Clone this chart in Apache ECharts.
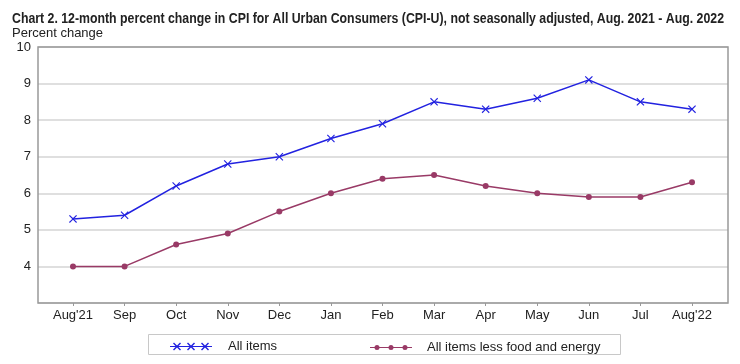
<!DOCTYPE html>
<html>
<head>
<meta charset="utf-8">
<script src="https://cdn.jsdelivr.net/npm/echarts@6/dist/echarts.min.js"></script>
<style>
html,body{margin:0;padding:0;background:#fff;}
#main{width:740px;height:364px;}
</style>
</head>
<body>
<div id="main"></div>
<script>
const categories = ["Aug'21","Sep","Oct","Nov","Dec","Jan","Feb","Mar","Apr","May","Jun","Jul","Aug'22"];
const allItems = [5.3,5.4,6.2,6.8,7.0,7.5,7.9,8.5,8.3,8.6,9.1,8.5,8.3];
const coreItems = [4.0,4.0,4.6,4.9,5.5,6.0,6.4,6.5,6.2,6.0,5.9,5.9,6.3];
const yTicks = [4,5,6,7,8,9,10];
const seriesNames = ['All items','All items less food and energy'];
const titleText = 'Chart 2. 12-month percent change in CPI for All Urban Consumers (CPI-U), not seasonally adjusted, Aug. 2021 - Aug. 2022';
const yAxisTitle = 'Percent change';

const BLUE = '#2222e0';
const MAROON = '#993a66';
const FONT = '"Liberation Sans", Arial, sans-serif';
const TITLE_FONT = 'bold 14px "Liberation Sans", Arial, sans-serif';
const TITLE_WIDTH = 712;

const mctx = document.createElement('canvas').getContext('2d');
mctx.font = TITLE_FONT;
const titleScale = TITLE_WIDTH / mctx.measureText(titleText).width;

const xPath = 'path://M0,1L1,0L5,4L9,0L10,1L6,5L10,9L9,10L5,6L1,10L0,9L4,5Z';

function xAt(c){
  const p=[[-4,-3],[-3,-4],[0,-1],[3,-4],[4,-3],[1,0],[4,3],[3,4],[0,1],[-3,4],[-4,3],[-1,0]];
  return 'M'+p.map(q=>(c+q[0])+','+(5+q[1])).join('L')+'Z';
}
const allIcon = 'path://M0,4.6H42V5.4H0Z' + xAt(7)+xAt(21)+xAt(35);
function cAt(c){ return 'M'+(c-2.5)+',5a2.5,2.5 0 1,1 5,0a2.5,2.5 0 1,1 -5,0Z'; }
const coreIcon = 'path://M0,4.5H42V5.5H0Z' + cAt(7)+cAt(21)+cAt(35);

const chart = echarts.init(document.getElementById('main'));
chart.setOption({
  animation:false,
  backgroundColor:'#fff',
  title:[
    {text:yAxisTitle, left:12, top:27, padding:0,
     textStyle:{fontFamily:FONT, fontWeight:'normal', fontSize:13, color:'#222'}}
  ],
  grid:[
    {left:38, right:12, top:47, bottom:61, show:true, borderColor:'#999', borderWidth:1.5, z:5},
    {left:73, right:48, top:47, bottom:61}
  ],
  xAxis:[
    {gridIndex:0, type:'value', min:0, max:1, show:false},
    {gridIndex:1, type:'category', data:categories, boundaryGap:false,
     axisLine:{show:false},
     axisTick:{show:true, length:3, lineStyle:{color:'#999'}},
     axisLabel:{fontFamily:FONT, fontSize:13, color:'#222', margin:6, interval:0}}
  ],
  yAxis:[
    {gridIndex:0, type:'value', min:3, max:10, interval:1,
     axisLine:{show:false}, axisTick:{show:false},
     axisLabel:{fontFamily:FONT, fontSize:13, color:'#222', margin:7,
       formatter:v=> yTicks.indexOf(v)>=0 ? String(v) : ''},
     splitLine:{lineStyle:{color:'#d4d4d4', width:1.5}}},
    {gridIndex:1, type:'value', min:3, max:10, interval:1, show:false, splitLine:{show:false}}
  ],
  graphic:[
    {type:'text', left:12, top:12, scaleX:titleScale,
     style:{text:titleText, font:TITLE_FONT, fill:'#222'}},
    {type:'rect', shape:{x:148.5, y:334.5, width:472, height:20},
     style:{fill:'none', stroke:'#c8c8c8', lineWidth:1}}
  ],
  legend:[
    {left:170, top:340, padding:0, itemWidth:42, itemHeight:8, itemGap:0,
     data:[{name:seriesNames[0], icon:allIcon}],
     itemStyle:{borderWidth:0},
     textStyle:{fontFamily:FONT, fontSize:13, color:'#222', padding:[0,0,0,11]}},
    {left:370, top:341, padding:0, itemWidth:42, itemHeight:6, itemGap:0,
     data:[{name:seriesNames[1], icon:coreIcon}],
     itemStyle:{borderWidth:0},
     textStyle:{fontFamily:FONT, fontSize:13, color:'#222', padding:[0,0,0,10]}}
  ],
  series:[
    {name:seriesNames[0], type:'line', xAxisIndex:1, yAxisIndex:1, data:allItems,
     symbol:xPath, symbolSize:8, showAllSymbol:true,
     lineStyle:{color:BLUE, width:1.5}, itemStyle:{color:BLUE}},
    {name:seriesNames[1], type:'line', xAxisIndex:1, yAxisIndex:1, data:coreItems,
     symbol:'circle', symbolSize:6, showAllSymbol:true,
     lineStyle:{color:MAROON, width:1.5}, itemStyle:{color:MAROON}}
  ]
});
</script>
</body>
</html>
